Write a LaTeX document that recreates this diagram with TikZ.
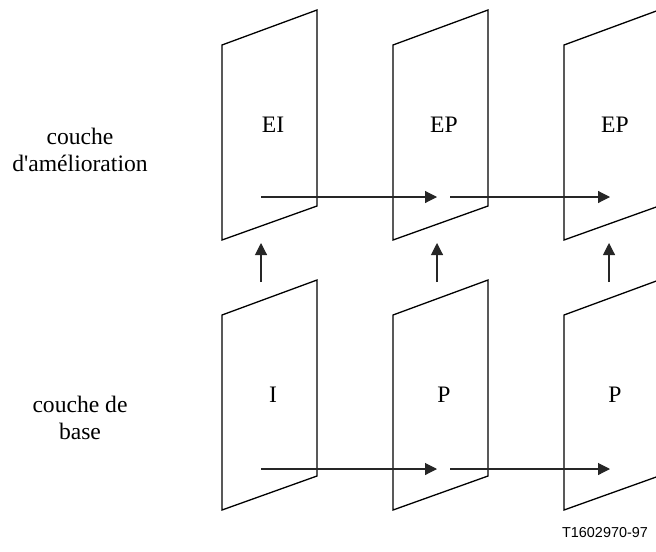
\documentclass[tikz,border=0pt]{standalone}
\usepackage{fontspec}
\setmainfont{Liberation Serif}[Ligatures=TeXOff]
\newfontfamily\labelsans{Liberation Sans}
\usetikzlibrary{arrows.meta}
\begin{document}
\begin{tikzpicture}[x=0.5pt,y=-0.5pt,
    framebox/.style={draw=black,line width=0.65pt,line join=miter},
    framelabel/.style={font=\fontsize{11.8}{14}\selectfont,inner sep=0pt},
    sidelabel/.style={font=\fontsize{11.8}{13.5}\selectfont,align=center,inner sep=0pt},
    flow/.style={draw=black!85,line width=0.55pt,-{Triangle[length=6pt,width=6pt]}}]
  \useasboundingbox (0,0) rectangle (656,551);

  % picture frames: upper row (enhancement) and lower row (base)
  \foreach \col/\x in {1/222,2/393,3/564}{
    \foreach \row/\y in {u/0,b/270}{
      \draw[framebox] (\x,\y+45) -- (\x+95,\y+10) -- (\x+95,\y+206) -- (\x,\y+240) -- cycle;
      \coordinate (f\row\col) at (\x+51,\y+125);
    }
  }

  % frame names
  \node[framelabel] (lu1) at (fu1) {EI};
  \node[framelabel] (lu2) at (fu2) {EP};
  \node[framelabel] (lu3) at (fu3) {EP};
  \node[framelabel] (lb1) at (fb1) {I};
  \node[framelabel] (lb2) at (fb2) {P};
  \node[framelabel] (lb3) at (fb3) {P};

  % layer names
  \node[sidelabel] (enh) at (80,150) {couche\\d'amélioration};
  \node[sidelabel] (base) at (80,418) {couche de\\base};

  % prediction arrows within each layer
  \coordinate (ua) at (261,197); \coordinate (ub) at (437,197);
  \coordinate (uc) at (450,197); \coordinate (ud) at (610,197);
  \coordinate (ba) at (261,469); \coordinate (bb) at (437,469);
  \coordinate (bc) at (450,469); \coordinate (bd) at (610,469);
  \draw[flow] (ua) -- (ub);
  \draw[flow] (uc) -- (ud);
  \draw[flow] (ba) -- (bb);
  \draw[flow] (bc) -- (bd);

  % arrows from base layer up to enhancement layer
  \foreach \i/\x in {1/261,2/437,3/609}{
    \coordinate (vs\i) at (\x,282);
    \coordinate (ve\i) at (\x,243);
    \draw[flow] (vs\i) -- (ve\i);
  }

  % figure reference
  \node[font=\labelsans\fontsize{7.2}{9}\selectfont,inner sep=0pt] (ref) at (605,533) {T1602970-97};
\end{tikzpicture}
\end{document}
